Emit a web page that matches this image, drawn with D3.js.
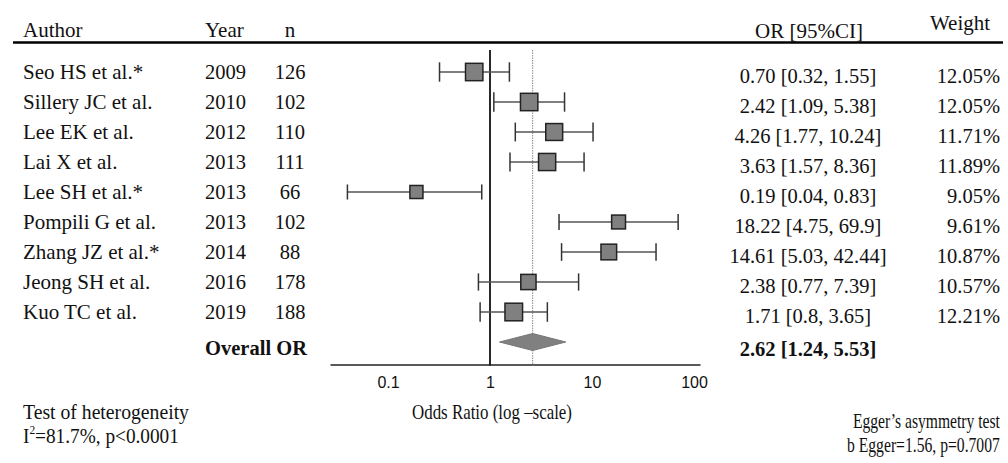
<!DOCTYPE html>
<html>
<head>
<meta charset="utf-8">
<script src="https://cdn.jsdelivr.net/npm/d3@7"></script>
<style>
  html, body { margin: 0; padding: 0; background: #fff; }
  svg { display: block; }
  .serif { font-family: "Liberation Serif", "Times New Roman", serif; fill: #111; }
  .tick text { font-family: "Liberation Sans", Arial, sans-serif; }
</style>
</head>
<body>
<svg id="chart" width="1008" height="463"></svg>
<script>
// ---- data ----
const authors = ["Seo HS et al.*", "Sillery JC et al.", "Lee EK et al.", "Lai X et al.", "Lee SH et al.*",
                 "Pompili G et al.", "Zhang JZ et al.*", "Jeong SH et al.", "Kuo TC et al."];
const years = ["2009", "2010", "2012", "2013", "2013", "2013", "2014", "2016", "2019"];
const ns = ["126", "102", "110", "111", "66", "102", "88", "178", "188"];
const ors = [0.70, 2.42, 4.26, 3.63, 0.19, 18.22, 14.61, 2.38, 1.71];
const lows = [0.32, 1.09, 1.77, 1.57, 0.04, 4.75, 5.03, 0.77, 0.8];
const highs = [1.55, 5.38, 10.24, 8.36, 0.83, 69.9, 42.44, 7.39, 3.65];
const orLabels = ["0.70 [0.32, 1.55]", "2.42 [1.09, 5.38]", "4.26 [1.77, 10.24]", "3.63 [1.57, 8.36]",
                  "0.19 [0.04, 0.83]", "18.22 [4.75, 69.9]", "14.61 [5.03, 42.44]", "2.38 [0.77, 7.39]",
                  "1.71 [0.8, 3.65]"];
const weights = [12.05, 12.05, 11.71, 11.89, 9.05, 9.61, 10.87, 10.57, 12.21];
const weightLabels = ["12.05%", "12.05%", "11.71%", "11.89%", "9.05%", "9.61%", "10.87%", "10.57%", "12.21%"];
const overall = { or: 2.62, low: 1.24, high: 5.53, label: "2.62 [1.24, 5.53]" };
const tickValues = [0.1, 1, 10, 100];
const tickLabels = ["0.1", "1", "10", "100"];
const headers = ["Author", "Year", "n", "OR [95%CI]", "Weight"];
const footLeft = ["Test of heterogeneity", "I", "2", "=81.7%, p<0.0001"];
const footMid = "Odds Ratio (log \u2013scale)";
const footRight = ["Egger\u2019s asymmetry test", "b Egger=1.56, p=0.7007"];

// ---- layout ----
const svg = d3.select("#chart");
const x = d3.scaleLog().domain([0.027, 114.5]).range([330, 700]);
const rowY = d3.scalePoint().domain(d3.range(authors.length + 1)).range([72, 342]);
const boxSize = d3.scaleLinear().domain([0, d3.max(weights)]).range([0, 17.6]);
const axisY = 364.5;
const topY = 50;
const fs = 20.5;

// header
svg.append("text").attr("class", "serif").attr("x", 23).attr("y", 37).attr("font-size", 21).text(headers[0]);
svg.append("text").attr("class", "serif").attr("x", 205).attr("y", 37).attr("font-size", 21).text(headers[1]);
svg.append("text").attr("class", "serif").attr("x", 290).attr("y", 37).attr("font-size", 21).attr("text-anchor", "middle").text(headers[2]);
svg.append("text").attr("class", "serif").attr("x", 809).attr("y", 38).attr("font-size", 21).attr("text-anchor", "middle").text(headers[3]);
svg.append("text").attr("class", "serif").attr("x", 960).attr("y", 30).attr("font-size", 21).attr("text-anchor", "middle").text(headers[4]);
svg.append("line").attr("x1", 13).attr("x2", 1003).attr("y1", 42.5).attr("y2", 42.5)
  .attr("stroke", "#000").attr("stroke-width", 2.5);

// rows text
const rows = svg.append("g");
authors.forEach((a, i) => {
  const y = rowY(i);
  rows.append("text").attr("class", "serif").attr("x", 23).attr("y", y + 7).attr("font-size", 21).text(a);
  rows.append("text").attr("class", "serif").attr("x", 205).attr("y", y + 7).attr("font-size", fs).text(years[i]);
  rows.append("text").attr("class", "serif").attr("x", 290).attr("y", y + 7).attr("font-size", fs).attr("text-anchor", "middle").text(ns[i]);
  rows.append("text").attr("class", "serif").attr("x", 808).attr("y", y + 11).attr("font-size", fs).attr("text-anchor", "middle").text(orLabels[i]);
  rows.append("text").attr("class", "serif").attr("x", 1000).attr("y", y + 11).attr("font-size", fs).attr("text-anchor", "end").text(weightLabels[i]);
});
const oy = rowY(authors.length);
rows.append("text").attr("class", "serif").attr("x", 307).attr("y", oy + 13).attr("font-size", fs)
  .attr("font-weight", "bold").attr("text-anchor", "end").text("Overall OR");
rows.append("text").attr("class", "serif").attr("x", 808).attr("y", oy + 14).attr("font-size", fs)
  .attr("font-weight", "bold").attr("text-anchor", "middle").text(overall.label);

// axis
const axis = d3.axisBottom(x).tickValues(tickValues).tickFormat((d, i) => tickLabels[i])
  .tickSize(0).tickSizeOuter(0).tickPadding(12);
const ag = svg.append("g").attr("transform", `translate(0,${axisY})`).call(axis);
ag.select(".domain").attr("stroke", "#222").attr("stroke-width", 1.6);
ag.selectAll(".tick text").attr("font-size", 16).attr("fill", "#111");

// reference lines
svg.append("line").attr("x1", x(1)).attr("x2", x(1)).attr("y1", topY).attr("y2", axisY + 1)
  .attr("stroke", "#111").attr("stroke-width", 1.8);
svg.append("line").attr("x1", x(overall.or)).attr("x2", x(overall.or)).attr("y1", topY).attr("y2", axisY + 1)
  .attr("stroke", "#888").attr("stroke-width", 1).attr("stroke-dasharray", "1.5,1");

// CI lines and boxes
const marks = svg.append("g");
ors.forEach((o, i) => {
  const y = rowY(i);
  const s = boxSize(weights[i]);
  marks.append("line").attr("x1", x(lows[i])).attr("x2", x(highs[i])).attr("y1", y).attr("y2", y)
    .attr("stroke", "#555").attr("stroke-width", 1.5);
  [lows[i], highs[i]].forEach(v => {
    marks.append("line").attr("x1", x(v)).attr("x2", x(v)).attr("y1", y - s / 2 - 1).attr("y2", y + s / 2 + 1)
      .attr("stroke", "#333").attr("stroke-width", 1.5);
  });
  marks.append("rect").attr("x", x(o) - s / 2).attr("y", y - s / 2).attr("width", s).attr("height", s)
    .attr("fill", "#808080").attr("stroke", "#222").attr("stroke-width", 1.5);
});

// diamond
const dh = 8.5;
marks.append("path")
  .attr("d", `M${x(overall.low)},${oy} L${x(overall.or)},${oy - dh} L${x(overall.high)},${oy} L${x(overall.or)},${oy + dh} Z`)
  .attr("fill", "#808080").attr("stroke", "#777").attr("stroke-width", 1);

// footer: condensed text via horizontal scaling (anchor at x0, width len)
function condensed(build, x0, y0, len, anchor) {
  const g = svg.append("g");
  const t = g.append("text").attr("class", "serif").attr("font-size", 22);
  build(t);
  const w = t.node().getComputedTextLength();
  const k = Math.min(1, len / w);
  const shift = anchor === "end" ? -len : anchor === "middle" ? -len / 2 : 0;
  g.attr("transform", `translate(${x0 + shift},${y0}) scale(${k},1)`);
  return t;
}
condensed(t => t.text(footLeft[0]), 23, 419, 166, "start");
condensed(t => {
  t.append("tspan").text(footLeft[1]);
  t.append("tspan").attr("font-size", 13).attr("dy", -9).text(footLeft[2]);
  t.append("tspan").attr("dy", 9).text(footLeft[3]);
}, 23, 443, 156, "start");
condensed(t => t.text(footMid), 492, 419, 160, "middle");
condensed(t => t.text(footRight[0]), 1000, 428, 147, "end");
condensed(t => t.text(footRight[1]), 1000, 452, 153, "end");
</script>
</body>
</html>
